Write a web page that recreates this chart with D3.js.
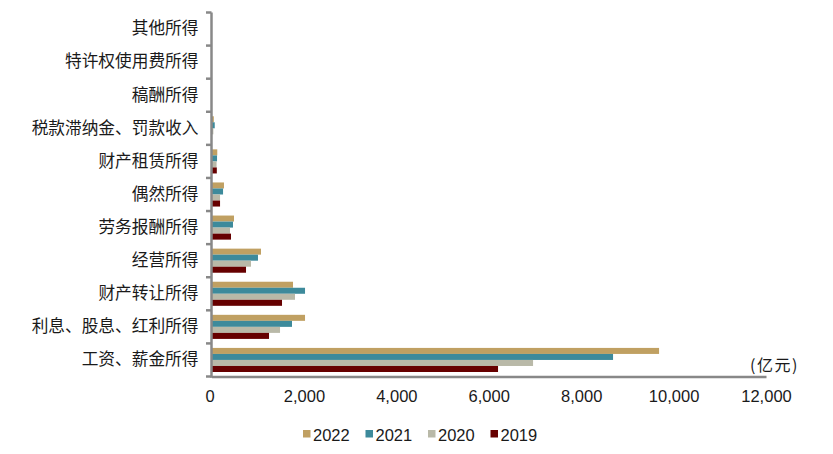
<!DOCTYPE html>
<html>
<head>
<meta charset="utf-8">
<script src="https://cdn.jsdelivr.net/npm/d3@7"></script>
<style>
html,body{margin:0;padding:0;background:#fff;}
svg{display:block;}
text{font-family:"Liberation Sans",Arial,"Noto Sans CJK SC",sans-serif;fill:#1a1a1a;}
</style>
</head>
<body>
<svg id="chart" width="833" height="454"></svg>
<script>
const categories = ["其他所得","特许权使用费所得","稿酬所得","税款滞纳金、罚款收入","财产租赁所得","偶然所得","劳务报酬所得","经营所得","财产转让所得","利息、股息、红利所得","工资、薪金所得"];
const years = ["2022","2021","2020","2019"];
const values2022 = [4, 6, 5, 50, 125, 270, 487, 1071, 1764, 2024, 9686];
const values2021 = [3, 5, 4, 70, 120, 250, 465, 1006, 2024, 1742, 8690];
const values2020 = [3, 4, 4, 40, 110, 185, 400, 855, 1807, 1483, 6959];
const values2019 = [2, 4, 3, 10, 115, 185, 422, 747, 1526, 1245, 6201];
const xTicks = [0, 2000, 4000, 6000, 8000, 10000, 12000];
const unitLabel = "(亿元)";

const seriesValues = {"2022": values2022, "2021": values2021, "2020": values2020, "2019": values2019};
const colors = {"2022": "#C0A062", "2021": "#3D8A9B", "2020": "#B9B9A8", "2019": "#660000"};
const axisColor = "#888888";

const svg = d3.select("#chart");
const x = d3.scaleLinear().domain([0, 12000]).range([211.5, 766]);
const y = d3.scaleBand().domain(categories).range([12.5, 376.5]);
const bw = y.bandwidth();
const yInner = d3.scaleBand().domain(years).range([bw * 0.136, bw * 0.864]);

// bars
const rows = categories.map((c, i) => ({cat: c, vals: years.map(yr => ({year: yr, v: seriesValues[yr][i]}))}));
const g = svg.append("g");
g.selectAll("g.row").data(rows).join("g")
  .attr("transform", d => `translate(0,${y(d.cat)})`)
  .selectAll("rect").data(d => d.vals).join("rect")
  .attr("x", x(0))
  .attr("y", d => yInner(d.year))
  .attr("width", d => Math.max(0, x(d.v) - x(0)))
  .attr("height", yInner.bandwidth())
  .attr("fill", d => colors[d.year]);

// x axis
const xAxis = d3.axisBottom(x).tickValues(xTicks).tickFormat(d3.format(",")).tickSize(0).tickPadding(13.5);
const gx = svg.append("g").attr("transform", `translate(0,${y.range()[1]})`).call(xAxis);
gx.select(".domain").attr("stroke", axisColor).attr("stroke-width", 2.5);
gx.selectAll("text").attr("font-size", "16.5px").style("font-family", '"Liberation Sans",Arial,sans-serif').attr("fill", "#1a1a1a");
gx.selectAll(".tick").filter(d => d === 0).select("text").attr("dx", "-2");

// y axis (labels only via axis, ticks at boundaries)
const yAxis = d3.axisLeft(y).tickSize(0).tickPadding(13);
const gy = svg.append("g").attr("transform", `translate(${x(0)},0)`).call(yAxis);
gy.select(".domain").remove();
gy.selectAll("text").attr("font-size", "16.7px").style("font-family", '"Noto Sans CJK SC","Liberation Sans",sans-serif').attr("fill", "#1a1a1a");

const boundaries = categories.map(c => y(c)).concat([y.range()[1]]);
svg.append("g").selectAll("line").data(boundaries).join("line")
  .attr("x1", x(0) - 5.5).attr("x2", x(0))
  .attr("y1", d => d).attr("y2", d => d)
  .attr("stroke", axisColor).attr("stroke-width", 2.5);
svg.append("line")
  .attr("x1", x(0)).attr("x2", x(0))
  .attr("y1", y.range()[0]).attr("y2", y.range()[1] + 1.25)
  .attr("stroke", axisColor).attr("stroke-width", 2.5);

// unit label
svg.append("text").attr("x", 750).attr("y", 371).attr("font-size", "16px")
  .attr("letter-spacing", "1.5px")
  .style("font-family", '"Noto Sans CJK SC",sans-serif').text(unitLabel);

// legend
const legend = svg.append("g").attr("transform", "translate(303,0)");
const li = legend.selectAll("g").data(years).join("g")
  .attr("transform", (d, i) => `translate(${i * 62.5},0)`);
li.append("rect").attr("x", 0).attr("y", 430).attr("width", 7.5).attr("height", 7.5).attr("fill", d => colors[d]);
li.append("text").attr("x", 10).attr("y", 440.5).attr("font-size", "16.5px").text(d => d);
</script>
</body>
</html>
